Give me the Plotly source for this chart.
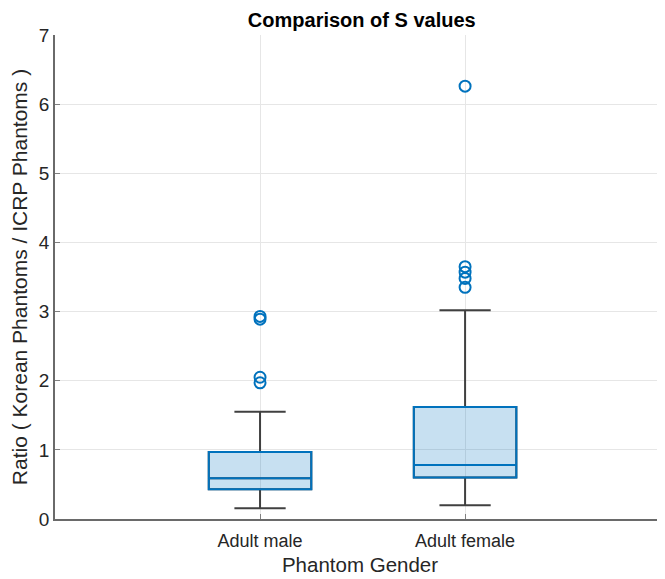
import plotly.graph_objects as go

categories = ["Adult male", "Adult female"]
positions = [1, 2]
q1 = [0.43, 0.60]
median = [0.59, 0.78]
q3 = [0.97, 1.62]
lower_whisker = [0.155, 0.20]
upper_whisker = [1.55, 3.02]
outliers_male = [1.97, 2.05, 2.89, 2.93]
outliers_female = [3.35, 3.48, 3.57, 3.65, 6.26]

BLUE = "#0072BD"
GRAY = "#404040"
FILL = "rgba(0,114,189,0.22)"
TXT = "#262626"

fig = go.Figure()
# whiskers (gray)
fig.add_trace(go.Box(
    x=positions, q1=q1, median=median, q3=q3,
    lowerfence=lower_whisker, upperfence=upper_whisker,
    fillcolor=FILL, line=dict(color=GRAY, width=2),
    width=0.5, whiskerwidth=0.5, boxpoints=False, showlegend=False,
    hoverinfo="skip"))
# box outline (blue), whiskers collapsed onto box edges
fig.add_trace(go.Box(
    x=positions, q1=q1, median=median, q3=q3,
    lowerfence=q1, upperfence=q3,
    fillcolor="rgba(0,0,0,0)", line=dict(color=BLUE, width=2),
    width=0.5, whiskerwidth=0.0, boxpoints=False, showlegend=False))
# outliers
ox = [1] * len(outliers_male) + [2] * len(outliers_female)
oy = outliers_male + outliers_female
fig.add_trace(go.Scatter(
    x=ox, y=oy, mode="markers", showlegend=False,
    marker=dict(symbol="circle-open", size=11, color=BLUE,
                line=dict(width=2, color=BLUE))))

fig.update_layout(
    width=665, height=579,
    margin=dict(l=47, r=8, t=26.5, b=68),
    paper_bgcolor="white", plot_bgcolor="white",
    boxmode="overlay",
    font=dict(family="Liberation Sans, Arial", color=TXT, size=18),
    title=dict(text="<b>Comparison of S values</b>", x=0.532, xanchor="center",
               y=0.979, yanchor="middle", font=dict(size=20, color="black")),
    xaxis=dict(range=[0, 2.975], tickvals=positions, ticktext=categories,
               showgrid=True, gridcolor="#e6e6e6", gridwidth=1,
               showline=True, linecolor="#6a6a6a", linewidth=1.5,
               ticks="inside", ticklen=5, tickcolor="#808080",
               zeroline=False, automargin=False, ticklabelstandoff=5,
               tickfont=dict(size=18),
               title=dict(text="Phantom Gender", font=dict(size=20.5), standoff=7)),
    yaxis=dict(range=[0, 7], dtick=1,
               showgrid=True, gridcolor="#e6e6e6", gridwidth=1,
               showline=True, linecolor="#6a6a6a", linewidth=1.5,
               ticks="inside", ticklen=5, tickcolor="#808080",
               zeroline=False, automargin=False,
               tickfont=dict(size=19),
               title=dict(text="Ratio ( Korean Phantoms / ICRP Phantoms )",
                          font=dict(size=21), standoff=8)),
)

fig.write_html("out.html")
